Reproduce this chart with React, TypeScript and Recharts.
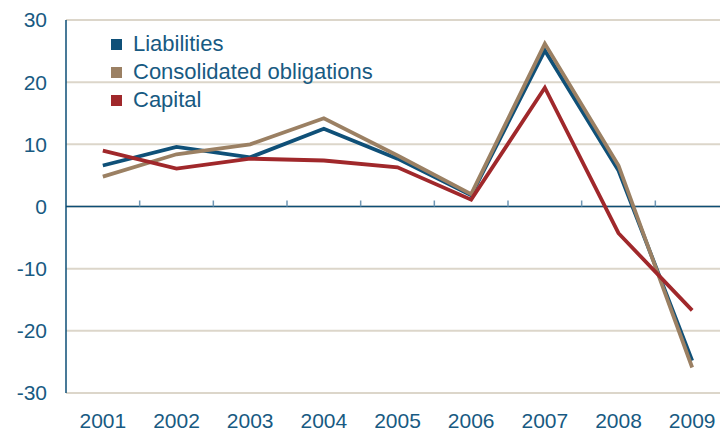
import { CartesianGrid, Line, LineChart, ReferenceLine, XAxis, YAxis } from "recharts"

const years = ["2001", "2002", "2003", "2004", "2005", "2006", "2007", "2008", "2009"]
const liabilities = [6.6, 9.6, 7.9, 12.5, 7.7, 1.8, 25.1, 5.8, -24.8]
const consolidated = [4.8, 8.4, 10.0, 14.2, 8.2, 2.0, 26.2, 6.6, -25.9]
const capital = [9.0, 6.1, 7.7, 7.4, 6.3, 1.1, 19.1, -4.3, -16.7]
const yTicks = [-30, -20, -10, 0, 10, 20, 30]

const data = years.map((year, i) => ({
    year,
    liabilities: liabilities[i],
    consolidated: consolidated[i],
    capital: capital[i],
}))

const font = '"Liberation Sans", Arial, sans-serif'
const textBlue = "#185a82"
const axisBlue = "#0d4e76"

const series = [
    { key: "liabilities", name: "Liabilities", color: "#0f5078" },
    { key: "consolidated", name: "Consolidated obligations", color: "#9b8063" },
    { key: "capital", name: "Capital", color: "#a0282b" },
]

function ZeroAxis(p: any) {
    const step = (p.x2 - p.x1) / years.length
    return (
        <g>
            <line x1={p.x1} y1={p.y1} x2={p.x2} y2={p.y2} stroke={axisBlue} strokeWidth={1.5} />
            {years.slice(1).map((_, i) => (
                <line
                    key={i}
                    x1={p.x1 + step * (i + 1)}
                    x2={p.x1 + step * (i + 1)}
                    y1={p.y1}
                    y2={p.y1 - 6}
                    stroke="#6f97b4"
                    strokeWidth={1.5}
                />
            ))}
        </g>
    )
}

function LegendBox() {
    return (
        <div
            style={{
                position: "absolute",
                left: 111,
                top: 30,
                fontFamily: font,
                fontSize: 22,
                color: textBlue,
                lineHeight: "28px",
            }}
        >
            {series.map((s) => (
                <div key={s.key} style={{ display: "flex", alignItems: "center" }}>
                    <span style={{ width: 11, height: 11, background: s.color, marginRight: 11 }} />
                    <span>{s.name}</span>
                </div>
            ))}
        </div>
    )
}

export default function App() {
    return (
        <div style={{ position: "absolute", left: 0, top: 0, width: 720, height: 433, overflow: "hidden", background: "#fff" }}>
            <LineChart width={730} height={433} data={data} margin={{ top: 20, right: 1, bottom: 0, left: 0 }}>
                <CartesianGrid vertical={false} stroke="#dcd6ca" strokeWidth={2} />
                <XAxis
                    dataKey="year"
                    scale="band"
                    height={40}
                    axisLine={false}
                    tickLine={false}
                    tickSize={0}
                    tickMargin={20}
                    tick={{ fill: textBlue, fontSize: 21, fontFamily: font }}
                    interval={0}
                />
                <YAxis
                    width={66}
                    domain={[-30, 30]}
                    ticks={yTicks}
                    axisLine={{ stroke: axisBlue, strokeWidth: 1.5 }}
                    tickLine={false}
                    tickSize={0}
                    tickMargin={19}
                    tick={{ fill: textBlue, fontSize: 21, fontFamily: font }}
                    tickFormatter={(v) => `${v}`}
                />
                <ReferenceLine y={0} shape={ZeroAxis} />
                {series.map((s) => (
                    <Line
                        key={s.key}
                        dataKey={s.key}
                        name={s.name}
                        type="linear"
                        stroke={s.color}
                        strokeWidth={3.8}
                        dot={false}
                        isAnimationActive={false}
                    />
                ))}
            </LineChart>
            <LegendBox />
        </div>
    )
}
